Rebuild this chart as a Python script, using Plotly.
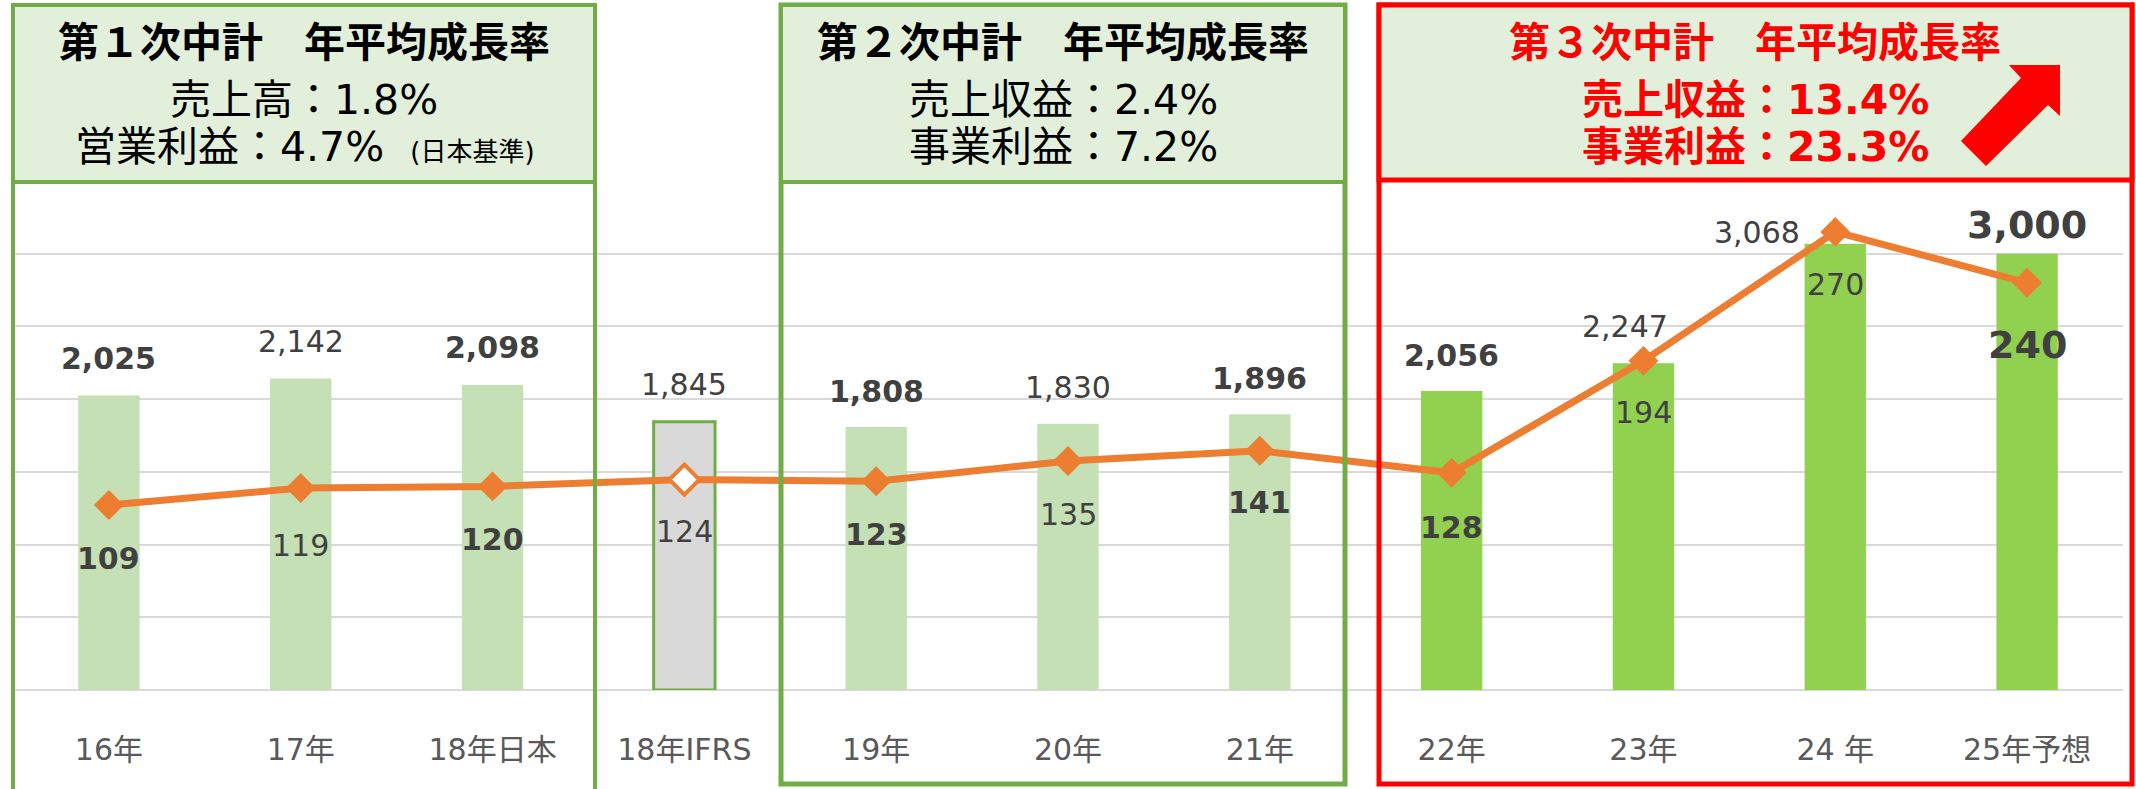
import plotly.graph_objects as go

# ---------------- data ----------------
categories = ["16年", "17年", "18年日本", "18年IFRS", "19年", "20年", "21年",
              "22年", "23年", "24 年", "25年予想"]
sales = [2025, 2142, 2098, 1845, 1808, 1830, 1896, 2056, 2247, 3068, 3000]
profit = [109, 119, 120, 124, 123, 135, 141, 128, 194, 270, 240]
sales_bold = [True, False, True, False, True, False, True, True, False, False, True]
profit_bold = [True, False, True, False, True, False, True, True, False, False, True]

# ---------------- styles ----------------
bar_colors = ["#C5E0B4"] * 3 + ["#D9D9D9"] + ["#C5E0B4"] * 3 + ["#92D050"] * 4
bar_line_w = [0, 0, 0, 3, 0, 0, 0, 0, 0, 0, 0]
marker_fill = ["#ED7D31"] * 3 + ["#FFFFFF"] + ["#ED7D31"] * 7
marker_line_w = [0, 0, 0, 4, 0, 0, 0, 0, 0, 0, 0]
sales_font = [30] * 10 + [38]
sales_xshift = [0, 0, 0, 0, 0, 0, 0, 0, -18, -78, 0]
sales_yshift = [37, 37, 37, 37, 36, 36, 36, 36, 37, 11, 29]
profit_font = [30] * 10 + [38]
profit_yshift = [-53, -57, -53, -52, -53, -54, -52, -55, -52, -53, -62]

LABEL_FONT = "DejaVu Sans, Noto Sans CJK JP"
CJK_FONT = "DejaVu Sans, Noto Sans CJK JP"
GREEN = "#70AD47"
RED = "#FF0000"
HDR_FILL = "#E2EFDA"

# ---------------- geometry ----------------
W_FIG, H_FIG = 2136, 789
ML, MR, MT, MB = 13, 13, 181, 99
PW = W_FIG - ML - MR
PH = H_FIG - MT - MB


def px(x):
    return (x - ML) / PW


def py(y):
    return (H_FIG - MB - y) / PH


fig = go.Figure()

fig.add_trace(go.Bar(
    x=categories, y=sales,
    marker=dict(color=bar_colors, line=dict(color=GREEN, width=bar_line_w)),
    width=0.32,
    hoverinfo="x+y",
))

fig.add_trace(go.Scatter(
    x=categories, y=profit, yaxis="y2",
    mode="lines+markers",
    line=dict(color="#ED7D31", width=7),
    marker=dict(symbol="diamond", size=23, color=marker_fill,
                line=dict(color="#ED7D31", width=marker_line_w)),
    hoverinfo="x+y",
))

annotations = []
for i, c in enumerate(categories):
    s = f"{sales[i]:,}"
    annotations.append(dict(
        x=c, y=sales[i], xref="x", yref="y",
        text=f"<b>{s}</b>" if sales_bold[i] else s,
        showarrow=False, yanchor="middle", xanchor="center",
        xshift=sales_xshift[i], yshift=sales_yshift[i],
        font=dict(family=LABEL_FONT, size=sales_font[i], color="#404040"),
    ))
    p = f"{profit[i]}"
    annotations.append(dict(
        x=c, y=profit[i], xref="x", yref="y2",
        text=f"<b>{p}</b>" if profit_bold[i] else p,
        showarrow=False, yanchor="middle", xanchor="center",
        yshift=profit_yshift[i],
        font=dict(family=LABEL_FONT, size=profit_font[i], color="#404040"),
    ))

# header texts
headers = [
    dict(cx=304, cx3=305, color="black", bold=False,
         title="第１次中計　年平均成長率",
         l2="売上高：1.8%",
         l3="営業利益：4.7%\u00a0\u00a0<span style='font-size:26px'>(日本基準)</span>"),
    dict(cx=1063, cx3=1063, color="black", bold=False,
         title="第２次中計　年平均成長率",
         l2="売上収益：2.4%",
         l3="事業利益：7.2%"),
    dict(cx=1755, cx3=1755, color=RED, bold=True,
         title="第３次中計　年平均成長率",
         l2="売上収益：13.4%",
         l3="事業利益：23.3%"),
]
for h in headers:
    annotations.append(dict(
        x=px(h["cx"]), y=py(43), xref="paper", yref="paper",
        text=f"<b>{h['title']}</b>", showarrow=False,
        xanchor="center", yanchor="middle",
        font=dict(family=CJK_FONT, size=41, color=h["color"]),
    ))
    for txt, yy, cx in ((h["l2"], 100, h["cx"]), (h["l3"], 147, h["cx3"])):
        annotations.append(dict(
            x=px(cx), y=py(yy), xref="paper", yref="paper",
            text=f"<b>{txt}</b>" if h["bold"] else txt, showarrow=False,
            xanchor="center", yanchor="middle",
            font=dict(family=CJK_FONT, size=41, color=h["color"]),
        ))

shapes = []


def box(x0, x1, y0, y1, color, width, fill=None):
    d = dict(type="rect", xref="paper", yref="paper",
             x0=px(x0), x1=px(x1), y0=py(y1), y1=py(y0),
             line=dict(color=color, width=width), layer="above")
    if fill:
        d["fillcolor"] = fill
    return d


shapes.append(box(13, 595, 5, 840, GREEN, 4))
shapes.append(box(13, 595, 5, 182, GREEN, 4, HDR_FILL))
shapes.append(box(781, 1345, 5, 784, GREEN, 5))
shapes.append(box(781, 1345, 5, 182, GREEN, 4, HDR_FILL))
shapes.append(box(1379, 2132, 5, 784, RED, 5))
shapes.append(box(1379, 2132, 5, 180, RED, 5, HDR_FILL))

arrow_pts = [(2009, 65), (2060, 65), (2060, 116), (2048, 105), (1986, 166),
             (1961, 141), (2021, 78)]
path = "M " + " L ".join(f"{px(x):.5f},{py(y):.5f}" for x, y in arrow_pts) + " Z"
shapes.append(dict(type="path", xref="paper", yref="paper", path=path,
                   fillcolor=RED, line=dict(color=RED, width=0), layer="above"))

fig.update_layout(
    width=W_FIG, height=H_FIG,
    margin=dict(l=ML, r=MR, t=MT, b=MB, pad=0, autoexpand=False),
    paper_bgcolor="white", plot_bgcolor="white",
    showlegend=False,
    xaxis=dict(
        type="category", automargin=False, range=[-0.5, len(categories) - 0.5],
        showgrid=False, showline=False, zeroline=False,
        ticks="outside", ticklen=33, tickcolor="rgba(0,0,0,0)",
        tickfont=dict(family=LABEL_FONT, size=30, color="#595959"),
    ),
    yaxis=dict(
        range=[0, 3500], dtick=500, automargin=False,
        showgrid=True, gridcolor="#D9D9D9", gridwidth=2,
        zeroline=True, zerolinecolor="#D9D9D9", zerolinewidth=2,
        showticklabels=False, showline=False,
    ),
    yaxis2=dict(
        range=[0, 300], overlaying="y", side="right", automargin=False,
        showgrid=False, zeroline=False, showticklabels=False, showline=False,
    ),
    annotations=annotations,
    shapes=shapes,
)

fig.write_html("out.html",
               config={"displayModeBar": False},
               post_script="document.body.style.margin='0';document.body.style.overflow='hidden';")
